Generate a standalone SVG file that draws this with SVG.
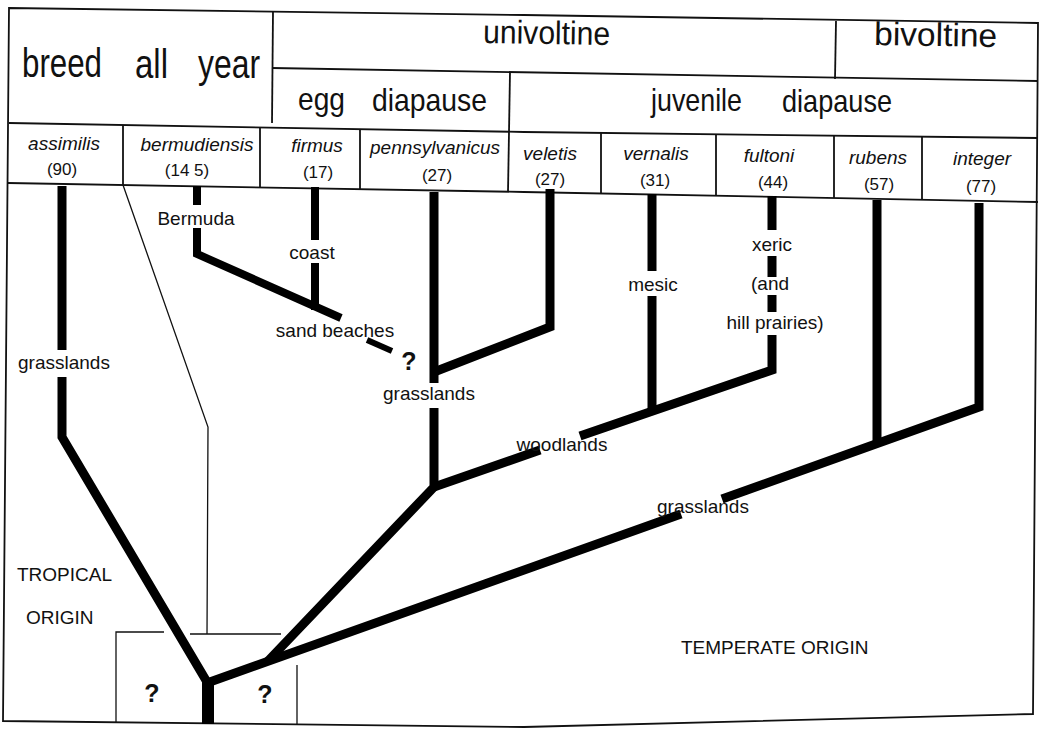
<svg xmlns="http://www.w3.org/2000/svg" width="1048" height="740" viewBox="0 0 1048 740">
<style>
text { font-family: "Liberation Sans", Arial, sans-serif; fill: #111; }
.big { font-size: 33px; }
.xl { font-size: 40px; }
.mid { font-size: 32px; }
.sp { font-size: 19px; font-style: italic; text-anchor: middle; }
.num { font-size: 17px; text-anchor: middle; }
.lbl { font-size: 19px; text-anchor: middle; }
.cap { font-size: 19px; }
.q { font-family: "Liberation Sans", Arial, sans-serif; font-weight: bold; font-size: 25px; text-anchor: middle; }
.rule { stroke: #111; stroke-width: 1.8; fill: none; }
.thin { stroke: #111; stroke-width: 1.3; fill: none; }
.br { stroke: #000; stroke-width: 9; fill: none; stroke-linejoin: miter; stroke-linecap: butt; }
</style>
<rect width="1048" height="740" fill="#fff"/>

<g id="frame">
  <polygon class="rule" points="9,8 524,15 1038,23 1033,714 524,727 3,721"/>
  <polyline class="rule" points="272,68 1038,81"/>
  <polyline class="rule" points="9,123 524,132 1038,138"/>
  <polyline class="rule" points="8,183 524,192 1038,202"/>
  <line class="rule" x1="273" y1="11" x2="272" y2="123"/>
  <line class="rule" x1="510" y1="72" x2="508" y2="192"/>
  <line class="rule" x1="836" y1="21" x2="835" y2="79"/>
  <line class="rule" x1="123" y1="125" x2="123" y2="185"/>
  <line class="rule" x1="260" y1="127" x2="260" y2="187"/>
  <line class="rule" x1="360" y1="129" x2="360" y2="189"/>
  <line class="rule" x1="601" y1="133" x2="601" y2="193"/>
  <line class="rule" x1="716" y1="134" x2="716" y2="196"/>
  <line class="rule" x1="834" y1="136" x2="834" y2="198"/>
  <line class="rule" x1="922" y1="137" x2="922" y2="200"/>
</g>

<g id="hdr-breed">
  <text class="xl" x="22" y="77" textLength="80" lengthAdjust="spacingAndGlyphs">breed</text>
  <text class="xl" x="135" y="78" textLength="33" lengthAdjust="spacingAndGlyphs">all</text>
  <text class="xl" x="198" y="78" textLength="62" lengthAdjust="spacingAndGlyphs">year</text>
</g>
<g id="hdr-univoltine">
  <text class="big" x="483" y="43" textLength="127" lengthAdjust="spacingAndGlyphs" transform="rotate(0.9 483 43)">univoltine</text>
</g>
<g id="hdr-bivoltine">
  <text class="big" x="874" y="45" textLength="123" lengthAdjust="spacingAndGlyphs" transform="rotate(0.9 874 45)">bivoltine</text>
</g>
<g id="hdr-egg">
  <text class="mid" x="298" y="110" textLength="47" lengthAdjust="spacingAndGlyphs">egg</text>
  <text class="mid" x="372" y="111" textLength="115" lengthAdjust="spacingAndGlyphs">diapause</text>
</g>
<g id="hdr-juvenile">
  <text class="mid" x="651" y="111" textLength="91" lengthAdjust="spacingAndGlyphs">juvenile</text>
  <text class="mid" x="782" y="112" textLength="110" lengthAdjust="spacingAndGlyphs">diapause</text>
</g>

<g id="sp-assimilis"><text class="sp" x="64" y="150">assimilis</text><text class="num" x="62" y="175">(90)</text></g>
<g id="sp-bermudiensis"><text class="sp" x="197" y="151">bermudiensis</text><text class="num" x="187" y="176">(14 5)</text></g>
<g id="sp-firmus"><text class="sp" x="317" y="152">firmus</text><text class="num" x="318" y="178">(17)</text></g>
<g id="sp-pennsylvanicus"><text class="sp" x="435" y="154">pennsylvanicus</text><text class="num" x="437" y="181">(27)</text></g>
<g id="sp-veletis"><text class="sp" x="550" y="160">veletis</text><text class="num" x="550" y="185">(27)</text></g>
<g id="sp-vernalis"><text class="sp" x="656" y="160">vernalis</text><text class="num" x="655" y="186">(31)</text></g>
<g id="sp-fultoni"><text class="sp" x="769" y="162">fultoni</text><text class="num" x="773" y="188">(44)</text></g>
<g id="sp-rubens"><text class="sp" x="878" y="164">rubens</text><text class="num" x="879" y="190">(57)</text></g>
<g id="sp-integer"><text class="sp" x="982" y="165">integer</text><text class="num" x="981" y="192">(77)</text></g>

<g id="connectors">
  <path class="thin" d="M123,185 L208,427 L207,634 M190,634 L281,634 M164,632 L116,632 L116,722 M297,665 L297,725"/>
  <path class="br" d="M62,186 V350 M62,377 V437 L207,682"/>
  <path class="br" style="stroke-width:12" d="M208,680 V724"/>
  <path class="br" d="M207,683 L681,514 M722,499 L979,407 V203"/>
  <path class="br" d="M877,443 V200"/>
  <path class="br" d="M267,662 L434,487 V408 M434,383 V192"/>
  <path class="br" d="M434,372 L550,327 V189"/>
  <path class="br" d="M434,487 L540,450 M580,436 L772,370 V335 M772,312 V295 M772,277 V256 M772,230 V196"/>
  <path class="br" d="M652,412 V296 M652,271 V194"/>
  <path class="br" style="stroke-width:8" d="M197,186 V205 M197,228 V254 L341,318"/>
  <path class="br" style="stroke-width:8" d="M315,187 V240 M315,263 V310"/>
  <path class="br" style="stroke-width:6" d="M367,340 L392,351"/>
</g>

<g id="lbl-bermuda"><text class="lbl" x="196" y="225">Bermuda</text></g>
<g id="lbl-coast"><text class="lbl" x="312" y="259">coast</text></g>
<g id="lbl-sand"><text class="lbl" x="335" y="337">sand beaches</text></g>
<g id="q-sand"><text class="q" x="409" y="370">?</text></g>
<g id="lbl-grass-assimilis"><text class="lbl" x="64" y="369">grasslands</text></g>
<g id="lbl-grass-penn"><text class="lbl" x="429" y="400">grasslands</text></g>
<g id="lbl-mesic"><text class="lbl" x="653" y="291">mesic</text></g>
<g id="lbl-xeric"><text class="lbl" x="772" y="251">xeric</text></g>
<g id="lbl-and"><text class="lbl" x="770" y="290">(and</text></g>
<g id="lbl-hill"><text class="lbl" x="775" y="329">hill prairies)</text></g>
<g id="lbl-woodlands"><text class="lbl" x="562" y="451">woodlands</text></g>
<g id="lbl-grass-temp"><text class="lbl" x="703" y="513">grasslands</text></g>
<g id="lbl-tropical"><text class="cap" x="17" y="581">TROPICAL</text><text class="cap" x="26" y="624">ORIGIN</text></g>
<g id="lbl-temperate"><text class="cap" x="681" y="654">TEMPERATE ORIGIN</text></g>
<g id="q-left"><text class="q" x="152" y="702">?</text></g>
<g id="q-right"><text class="q" x="265" y="703">?</text></g>
</svg>
